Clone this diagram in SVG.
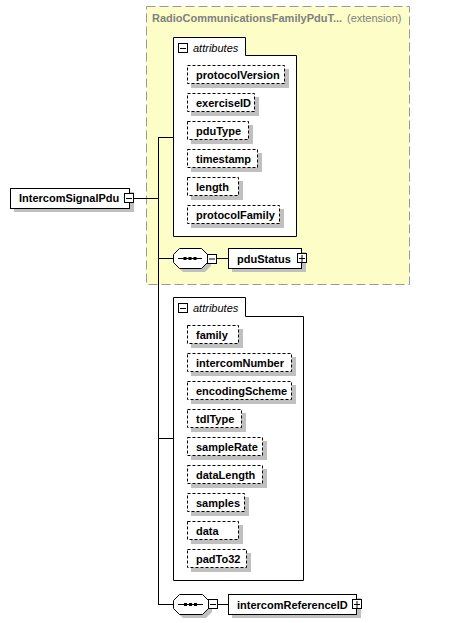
<svg xmlns="http://www.w3.org/2000/svg" width="451" height="623" viewBox="0 0 451 623">
<style>
text{font-family:"Liberation Sans",Arial,sans-serif;font-size:11px;fill:#000}
.b{font-weight:bold}
.it{font-style:italic}
.ext{fill:#fdfdc7;stroke:#999;stroke-dasharray:9,4}
.ttl{fill:#808080;font-weight:bold}
.ttl2{fill:#808080}
.grp{fill:#fff;stroke:#000}
.attr{fill:#fff;stroke:#000;stroke-dasharray:3,2}
.sh{fill:#c0c0c0}
.el{fill:#fff;stroke:#000}
.btn{fill:#fff;stroke:#000}
.ln{stroke:#000;fill:none}
</style>
<g id="extension">
<rect class="ext" x="146.5" y="6.5" width="263" height="278"/>
<text class="ttl" x="152" y="21.5">RadioCommunicationsFamilyPduT...</text>
<text class="ttl2" x="347" y="21.5">(extension)</text>
</g>
<g id="connectors">
<path class="ln" d="M134,198.5H158.5M158.5,137V605M158.5,137.5H173M158.5,258.5H173M217,258.5H228M158.5,438.5H173M158.5,604.5H173M218,604.5H228"/>
</g>
<g id="IntercomSignalPdu">
<rect class="sh" x="14" y="192" width="120" height="20"/>
<rect class="el" x="10.5" y="188.5" width="119" height="20"/>
<text class="b" x="19" y="202">IntercomSignalPdu</text>
<rect class="btn" x="124.5" y="193.5" width="9" height="9"/>
<path class="ln" d="M126,198.5H132"/>
</g>
<g id="attributes1">
<path class="grp" d="M173.5,37.5H245.5V55.5H296.5V236.5H173.5Z"/>
<rect class="btn" x="178.5" y="43.5" width="9" height="9"/>
<path class="ln" d="M180,48.5H186"/>
<text class="it" x="193" y="52">attributes</text>
</g>
<g id="protocolVersion"><rect class="sh" x="191" y="69" width="98" height="19"/><rect class="attr" x="187.5" y="65.5" width="97" height="18"/><text class="b" x="196" y="79">protocolVersion</text></g>
<g id="exerciseID"><rect class="sh" x="191" y="97" width="68" height="19"/><rect class="attr" x="187.5" y="93.5" width="67" height="18"/><text class="b" x="196" y="107">exerciseID</text></g>
<g id="pduType"><rect class="sh" x="191" y="125" width="62" height="19"/><rect class="attr" x="187.5" y="121.5" width="61" height="18"/><text class="b" x="196" y="135">pduType</text></g>
<g id="timestamp"><rect class="sh" x="191" y="153" width="71" height="19"/><rect class="attr" x="187.5" y="149.5" width="70" height="18"/><text class="b" x="196" y="163">timestamp</text></g>
<g id="length"><rect class="sh" x="191" y="181" width="52" height="19"/><rect class="attr" x="187.5" y="177.5" width="51" height="18"/><text class="b" x="196" y="191">length</text></g>
<g id="protocolFamily"><rect class="sh" x="191" y="209" width="93" height="19"/><rect class="attr" x="187.5" y="205.5" width="92" height="18"/><text class="b" x="196" y="219">protocolFamily</text></g>
<g id="sequence1">
<path class="sh" d="M183,252H205L211,258V266L205,272H183L177,266V258Z"/>
<path class="el" d="M179.5,248.5H201.5L207.5,254.5V262.5L201.5,268.5H179.5L173.5,262.5V254.5Z"/>
<path class="ln" d="M178,258.5H202"/>
<rect x="183.5" y="257" width="3" height="3"/><rect x="188.5" y="257" width="3" height="3"/><rect x="193.5" y="257" width="3" height="3"/>
<rect class="btn" x="207.5" y="254.5" width="9" height="9"/>
<path class="ln" d="M209,259H215"/>
</g>
<g id="pduStatus">
<rect class="sh" x="232" y="252" width="74" height="20"/>
<rect class="el" x="228.5" y="248.5" width="73" height="20"/>
<text class="b" x="237" y="263">pduStatus</text>
<rect class="btn" x="297.5" y="253.5" width="9" height="9"/>
<path class="ln" d="M299,258.5H305M302,255V262"/>
</g>
<g id="attributes2">
<path class="grp" d="M173.5,297.5H245.5V316.5H303.5V580.5H173.5Z"/>
<rect class="btn" x="178.5" y="303.5" width="9" height="9"/>
<path class="ln" d="M180,308.5H186"/>
<text class="it" x="193" y="312">attributes</text>
</g>
<g id="family"><rect class="sh" x="191" y="329" width="52" height="19"/><rect class="attr" x="187.5" y="325.5" width="51" height="18"/><text class="b" x="196" y="339">family</text></g>
<g id="intercomNumber"><rect class="sh" x="191" y="357" width="105" height="19"/><rect class="attr" x="187.5" y="353.5" width="104" height="18"/><text class="b" x="196" y="367">intercomNumber</text></g>
<g id="encodingScheme"><rect class="sh" x="191" y="385" width="105" height="19"/><rect class="attr" x="187.5" y="381.5" width="104" height="18"/><text class="b" x="196" y="395">encodingScheme</text></g>
<g id="tdlType"><rect class="sh" x="191" y="413" width="55" height="19"/><rect class="attr" x="187.5" y="409.5" width="54" height="18"/><text class="b" x="196" y="423">tdlType</text></g>
<g id="sampleRate"><rect class="sh" x="191" y="441" width="76" height="19"/><rect class="attr" x="187.5" y="437.5" width="75" height="18"/><text class="b" x="196" y="451">sampleRate</text></g>
<g id="dataLength"><rect class="sh" x="191" y="469" width="76" height="19"/><rect class="attr" x="187.5" y="465.5" width="75" height="18"/><text class="b" x="196" y="479">dataLength</text></g>
<g id="samples"><rect class="sh" x="191" y="497" width="58" height="19"/><rect class="attr" x="187.5" y="493.5" width="57" height="18"/><text class="b" x="196" y="507">samples</text></g>
<g id="data"><rect class="sh" x="191" y="525" width="52" height="19"/><rect class="attr" x="187.5" y="521.5" width="51" height="18"/><text class="b" x="196" y="535">data</text></g>
<g id="padTo32"><rect class="sh" x="191" y="553" width="60" height="19"/><rect class="attr" x="187.5" y="549.5" width="59" height="18"/><text class="b" x="196" y="563">padTo32</text></g>
<g id="sequence2">
<path class="sh" d="M183,598H206L212,604V612L206,618H183L177,612V604Z"/>
<path class="el" d="M179.5,594.5H202.5L208.5,600.5V608.5L202.5,614.5H179.5L173.5,608.5V600.5Z"/>
<path class="ln" d="M178,604.5H203"/>
<rect x="184" y="603" width="3" height="3"/><rect x="189" y="603" width="3" height="3"/><rect x="194" y="603" width="3" height="3"/>
<rect class="btn" x="208.5" y="599.5" width="9" height="9"/>
<path class="ln" d="M210,604.5H216"/>
</g>
<g id="intercomReferenceID">
<rect class="sh" x="232" y="598" width="129" height="20"/>
<rect class="el" x="228.5" y="594.5" width="128" height="20"/>
<text class="b" x="237" y="609">intercomReferenceID</text>
<rect class="btn" x="352.5" y="599.5" width="9" height="9"/>
<path class="ln" d="M354,604.5H360M357,601V608"/>
</g>
</svg>
